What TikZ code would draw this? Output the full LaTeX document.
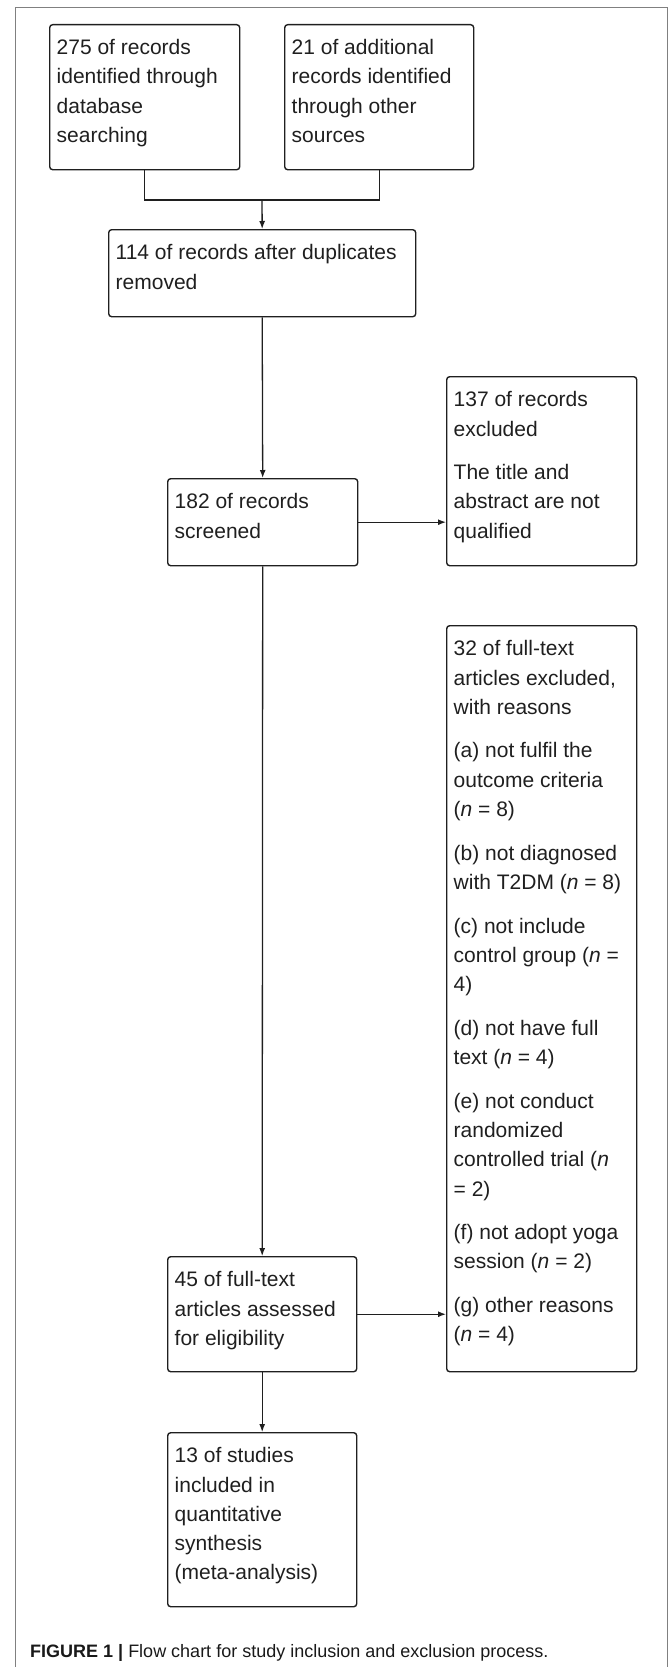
\documentclass[tikz,border=0pt]{standalone}
\usepackage{fontspec}
\setmainfont{Liberation Sans}
\usetikzlibrary{arrows.meta}
\newcommand{\bx}[3]{\parbox[t][#2pt][t]{#1pt}{\fontsize{21}{29.3}\selectfont\raggedright\leftskip=7pt\rule{0pt}{30pt}#3}}
\newcommand{\gap}{\\[14.3pt]}
\tikzset{
  flowbox/.style={draw=black!88, line width=1.4pt, rounded corners=3pt, inner sep=0pt, anchor=north west, text=black!88},
  link/.style={draw=black!88, line width=1.3pt},
  arr/.style={link, -{Latex[length=8pt,width=6pt]}},
  frame/.style={draw=black!50, line width=1pt}
}
\begin{document}
\begin{tikzpicture}[x=1pt,y=-1pt]
\useasboundingbox (0,0) rectangle (670,1667);
\draw[frame] (15,1667) -- (15,8) -- (667,8) -- (667,1667);

\node[flowbox] (b1) at (49,24) {\bx{190}{145}{275 of records\\identified through\\database\\searching}};
\node[flowbox] (b2) at (284,24) {\bx{189}{145}{21 of additional\\records identified\\through other\\sources}};
\node[flowbox] (b114) at (108,229) {\bx{307}{87}{114 of records after duplicates\\removed}};
\node[flowbox] (b182) at (167,478) {\bx{190}{87}{182 of records\\screened}};
\node[flowbox] (b137) at (446,376) {\bx{190}{189}{137 of records\\excluded\gap The title and\\abstract are not\\qualified}};
\node[flowbox] (b32) at (446,625) {\bx{190}{746}{32 of full-text\\articles excluded,\\with reasons\gap (a) not fulfil the\\outcome criteria\\(\textit{n} = 8)\gap (b) not diagnosed\\with T2DM (\textit{n} = 8)\gap (c) not include\\control group (\textit{n} =\\4)\gap (d) not have full\\text (\textit{n} = 4)\gap (e) not conduct\\randomized\\controlled trial (\textit{n}\\= 2)\gap (f) not adopt yoga\\session (\textit{n} = 2)\gap (g) other reasons\\(\textit{n} = 4)}};
\node[flowbox] (b45) at (167,1256) {\bx{189}{115}{45 of full-text\\articles assessed\\for eligibility}};
\node[flowbox] (b13) at (167,1432) {\bx{189}{174}{13 of studies\\included in\\quantitative\\synthesis\\(meta-analysis)}};

\coordinate (m) at (262,200);
\draw[link] (b1.south) |- (m) -| (b2.south);
\draw[arr] (m) -- (b114.north);
\draw[arr] (b114.south) -- (b182.north);
\draw[arr] (b182.east) -- (b182.east -| b137.west);
\draw[arr] (b182.south) -- (b45.north);
\draw[arr] (b45.east) -- (b45.east -| b32.west);
\draw[arr] (b45.south) -- (b13.north);

\node[anchor=base west, inner sep=0pt, text=black!90] (cap) at (30,1657) {\fontsize{18}{20}\selectfont\textbf{FIGURE 1 |} Flow chart for study inclusion and exclusion process.};
\end{tikzpicture}
\end{document}
